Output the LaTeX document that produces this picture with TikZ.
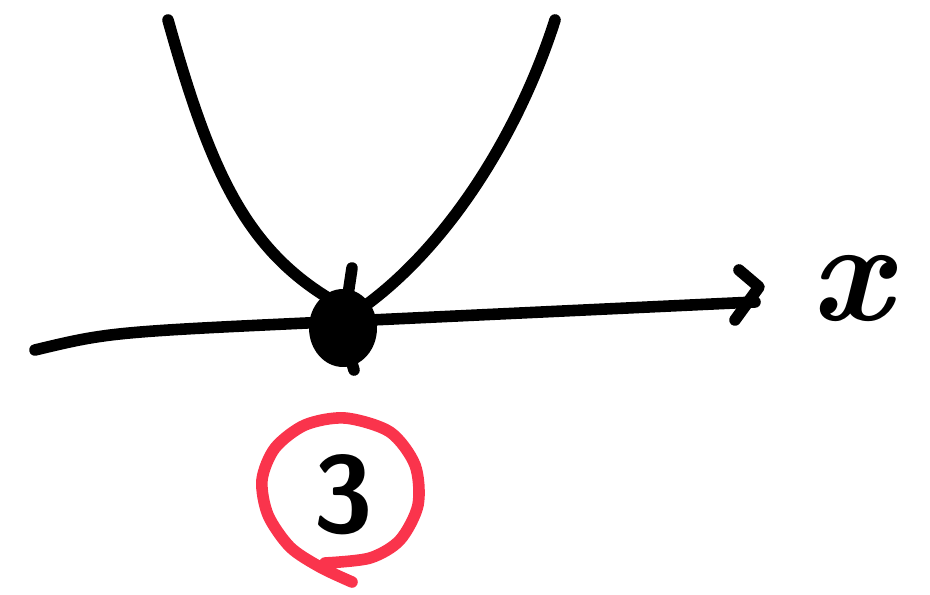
\documentclass[tikz,border=0pt]{standalone}
\usepackage{tikz}
\usetikzlibrary{arrows.meta,positioning,shapes,calc}
\definecolor{inkred}{RGB}{250,52,76}
\tikzset{
  sketch/.style={line width=6.6pt,line cap=round,line join=round},
  mindot/.style={ellipse,fill,inner sep=0pt,minimum width=1.36cm,minimum height=1.56cm},
}

\begin{document}
\begin{tikzpicture}[x=0.02cm,y=-0.02cm]
  \useasboundingbox (0,0) rectangle (930,595);
  % x axis, slightly wobbly
  \coordinate (axstart) at (35,350);
  \coordinate (axend) at (755,302);
  \draw[sketch] (axstart) .. controls (110,332) .. (350,321) -- (axend);
  \draw[sketch] (739,270) -- (759,287) -- (735,320);
  \node[font=\fontsize{82}{82}\selectfont\bfseries\itshape] (xlab) at (851,289) {x};
  % parabola, two branches
  \draw[sketch] (168,20) .. controls (210,170) and (245,250) .. (335,302);
  \draw[sketch] (555,20) .. controls (520,130) and (450,245) .. (362,308);
  % the minimum
  \node[mindot] (min) at (343,328) {};
  \draw[sketch] (352,268) -- (min.center);
  \draw[sketch] (348,350) -- (354,370);
  % circled 3
  \node[font=\fontsize{62}{62}\selectfont\sffamily\bfseries] (three) at (343,495) {3};
  \draw[sketch,inkred] plot[smooth] coordinates {(352,582) (320,567) (290,547) (268,515) (262,480)
    (275,448) (305,425) (345,418) (390,432) (415,465) (418,505) (400,540) (370,558) (325,563)};
\end{tikzpicture}
\end{document}
